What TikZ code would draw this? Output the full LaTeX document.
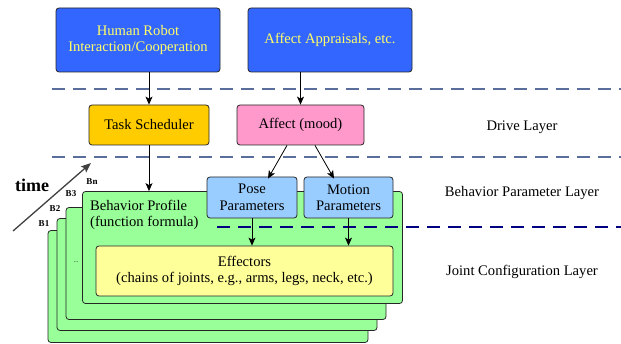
\documentclass[tikz,border=0pt]{standalone}
\usepackage{fontspec}
\setmainfont{Liberation Serif}
\usepackage{tikz}
\usetikzlibrary{arrows.meta,positioning,calc}
\definecolor{sourceblue}{RGB}{51, 102, 255}
\definecolor{sourcetext}{RGB}{255, 255, 102}
\definecolor{taskorg}{RGB}{255, 204, 0}
\definecolor{moodpink}{RGB}{255, 153, 204}
\definecolor{paramblue}{RGB}{153, 204, 255}
\definecolor{profgreen}{RGB}{153, 255, 153}
\definecolor{effyellow}{RGB}{255, 255, 153}
\definecolor{layergray}{RGB}{90, 110, 155}
\definecolor{layernavy}{RGB}{0, 0, 128}

\begin{document}
\begin{tikzpicture}[
    x=1pt, y=-1pt,
    font=\fontsize{14.6}{16.5}\selectfont,
    box/.style={rectangle, draw=black!85, line width=0.8pt, rounded corners=3pt,
        align=center, inner sep=2pt},
    profile/.style={box, fill=profgreen, minimum width=320pt, minimum height=112pt},
    tag/.style={font=\fontsize{9}{10}\selectfont\bfseries},
    arrow/.style={-{Stealth[length=8pt,width=7pt,inset=2pt]}, line width=0.8pt},
    layerline/.style={line width=1.2pt, dash pattern=on 13pt off 8pt}
]
    \useasboundingbox (0,0) rectangle (621,344);

    % sources
    \node[box, fill=sourceblue, text=sourcetext, minimum width=164pt, minimum height=64pt]
        (hri) at (138,40) {Human Robot\\Interaction/Cooperation};
    \node[box, fill=sourceblue, text=sourcetext, minimum width=164pt, minimum height=64pt]
        (appr) at (330,40) {Affect Appraisals, etc.};

    % drive layer
    \node[box, fill=taskorg, minimum width=120pt, minimum height=40pt] (task) at (149,125) {Task Scheduler};
    \node[box, fill=moodpink, minimum width=127pt, minimum height=40pt] (mood) at (300.5,125) {Affect (mood)};

    % stacked behavior profiles
    \node[profile] (b1) at (208,286.5) {};
    \node[profile] (b2) at (217,274.5) {};
    \node[profile] (b3) at (226,263.5) {};
    \node[profile] (bn) at (242.5,247.5) {};
    \node[anchor=north west, align=left, inner sep=0pt] (bptext) at (90,200)
        {Behavior Profile\\(function formula)};
    \node[font=\fontsize{6}{7}\selectfont] (dots) at (76,262) {...};

    \node[tag] (tb1) at (44,224) {B1};
    \node[tag] (tb2) at (55,209) {B2};
    \node[tag] (tb3) at (71,194) {B3};
    \node[tag] (tbn) at (92,182) {Bn};

    % parameters and effectors
    \node[box, fill=paramblue, minimum width=90pt, minimum height=41pt] (pose) at (252,197.5)
        {Pose\\Parameters};
    \node[box, fill=paramblue, minimum width=89pt, minimum height=41pt] (motion) at (348.5,197.5)
        {Motion\\Parameters};
    \node[box, fill=effyellow, minimum width=297pt, minimum height=50pt] (eff) at (244.5,271)
        {Effectors\\(chains of joints, e.g., arms, legs, neck, etc.)};

    % layer separators
    \coordinate (d1w) at (52,89);   \coordinate (d1e) at (621,89);
    \coordinate (d2w) at (52,157);  \coordinate (d2e) at (621,157);
    \coordinate (d3w) at (217,227); \coordinate (d3e) at (621,227);
    \draw[layerline, layergray] (d1w) -- (d1e);
    \draw[layerline, layergray] (d2w) -- (d2e);
    \draw[layerline, layernavy] (d3w) -- (d3e);

    \node (drive) at (522,127) {Drive Layer};
    \node (bparam) at (522,193) {Behavior Parameter Layer};
    \node (joint) at (522,272) {Joint Configuration Layer};

    % time
    \coordinate (t0) at (13,231);
    \coordinate (t1) at (91,163);
    \draw[-{Stealth[length=10pt,width=8pt,inset=2pt]}, line width=1.3pt, black!75] (t0) -- (t1);
    \node[font=\fontsize{18}{20}\selectfont\bfseries] (time) at (32,185) {time};

    % connections
    \draw[arrow] (task.north |- hri.south) -- (task.north);
    \draw[arrow] (mood.north |- appr.south) -- (mood.north);
    \draw[arrow] (task.south) -- (task.south |- bn.north);
    \draw[arrow] ([xshift=-13.5pt]mood.south) -- ([xshift=16pt, yshift=-2pt]pose.north);
    \draw[arrow] ([xshift=14.5pt]mood.south) -- ([xshift=-14.5pt, yshift=-2pt]motion.north);
    \draw[arrow] (pose.south) -- (pose.south |- eff.north);
    \draw[arrow] (motion.south) -- (motion.south |- eff.north);
\end{tikzpicture}
\end{document}
